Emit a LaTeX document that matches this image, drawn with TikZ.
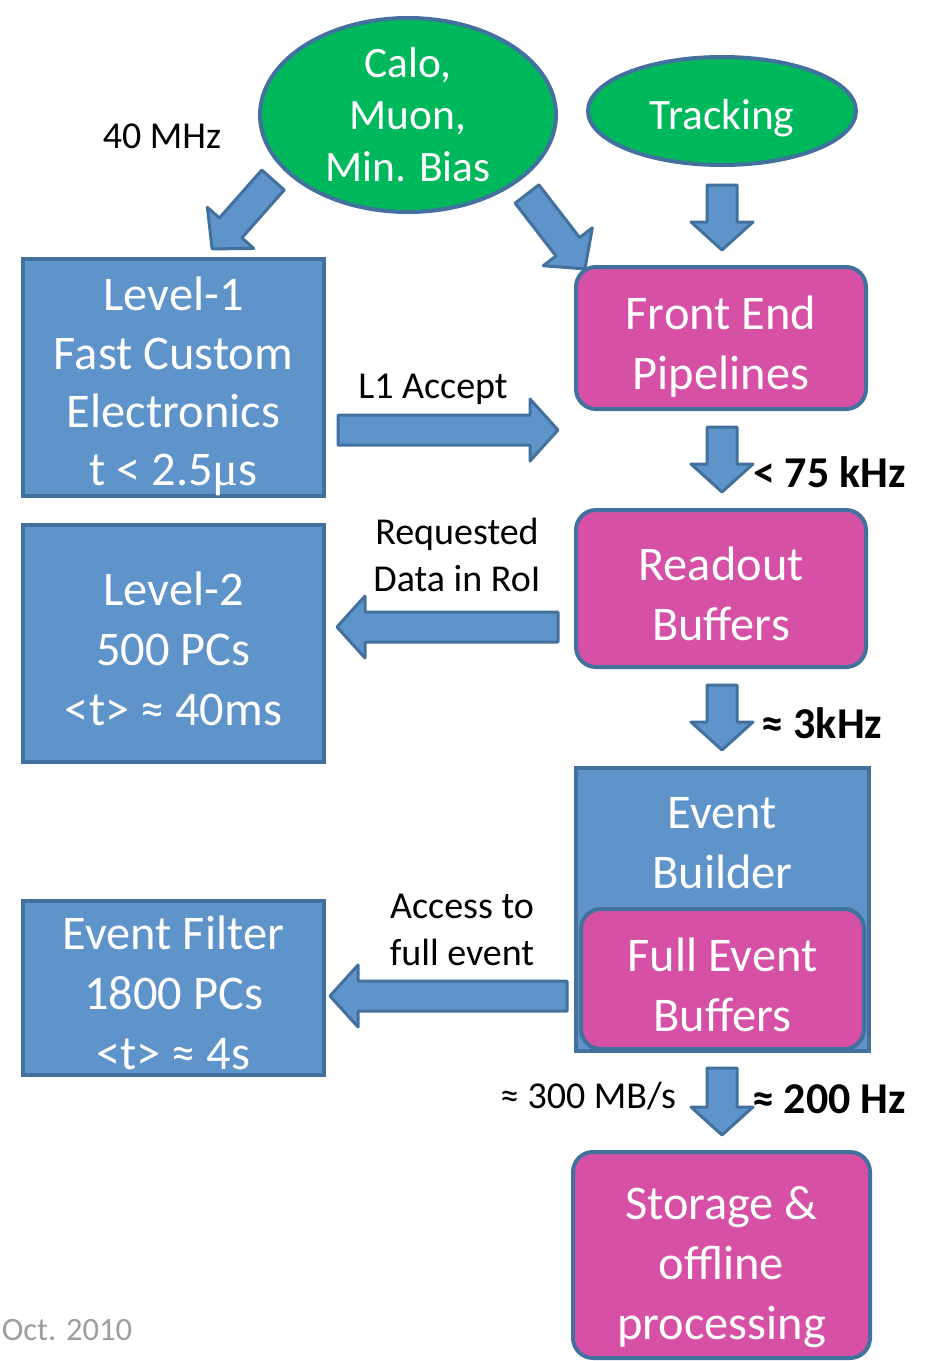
\documentclass[tikz,border=0pt]{standalone}
\usepackage{fontspec}
\setmainfont{Carlito}
\newfontfamily\serifmu{Liberation Serif}
\usetikzlibrary{calc,positioning,shapes.geometric}
\definecolor{boxblue}{RGB}{94,148,202}
\definecolor{edgeblue}{RGB}{66,113,158}
\definecolor{bufpink}{RGB}{214,80,166}
\definecolor{srcgreen}{RGB}{0,184,92}
\newcommand\drop[1]{\rule{0pt}{\dimexpr 17pt+#1\relax}}
\newcommand\bigarrow[2]{%
  \draw[fatarrow] let \p1=($(#2)-(#1)$), \n1={atan2(\y1,\x1)}, \n2={veclen(\x1,\y1)} in
    [shift={(#1)},rotate=\n1] (0pt,-7.5pt) -- (\n2-14pt,-7.5pt) -- (\n2-14pt,-15.5pt) -- (\n2,0pt)
    -- (\n2-14pt,15.5pt) -- (\n2-14pt,7.5pt) -- (0pt,7.5pt) -- cycle;}

\begin{document}
\begin{tikzpicture}[x=0.5pt,y=-0.5pt,
  every node/.style={align=center},
  bigtxt/.style={text=white,font=\fontsize{24.2}{30}\selectfont},
  trig/.style={bigtxt,draw=edgeblue,fill=boxblue,line width=2pt,minimum width=150.5pt,inner sep=0pt},
  buf/.style={bigtxt,draw=edgeblue,fill=bufpink,line width=2pt,rounded corners=10pt,inner sep=0pt},
  src/.style={ellipse,text=white,font=\fontsize{21.7}{26}\selectfont,draw=edgeblue,fill=srcgreen,line width=2pt,inner sep=0pt},
  lbl/.style={font=\fontsize{19}{23.5}\selectfont},
  rate/.style={font=\fontsize{22}{26}\bfseries\selectfont},
  fatarrow/.style={draw=edgeblue,fill=boxblue,line width=1.5pt,line join=round}]
  \useasboundingbox (0,0) rectangle (926,1361);

  \node[src,minimum width=148pt,minimum height=97pt] (calo) at (408,115) {Calo,\\Muon,\\Min. Bias};
  \node[src,minimum width=134pt,minimum height=54pt] (trk) at (722,111) {\rule{0pt}{22pt}Tracking};

  \node[trig,minimum height=118.5pt,font=\fontsize{24.2}{29.2}\selectfont] (lvl1) at (173.5,377.5) {\drop{9pt}Level-1\\Fast Custom\\Electronics\\t < 2.5{\serifmu μ}s};
  \node[trig,minimum height=118.5pt] (lvl2) at (173.5,643.5) {\drop{5pt}Level-2\\500 PCs\\<t> ≈ 40ms};
  \node[trig,minimum height=87pt] (ef) at (173.5,988) {\drop{5pt}Event Filter\\1800 PCs\\<t> ≈ 4s};

  \node[buf,minimum width=145pt,minimum height=71pt] (fe) at (721,338) {\drop{8pt}Front End\\Pipelines};
  \node[buf,minimum width=145pt,minimum height=78.5pt] (rob) at (721,588.5) {\drop{5pt}Readout\\Buffers};
  \node[trig,minimum width=146.5pt,minimum height=141.5pt] (eb) at (722.5,909.5) {};
  \node[bigtxt,below=12pt of eb.north] (ebtxt) {Event\\Builder};
  \node[buf,minimum width=141.5pt,minimum height=70pt] (feb) at (722.5,979) {\drop{6pt}Full Event\\Buffers};
  \node[buf,minimum width=148.5pt,minimum height=103pt] (sto) at (721.5,1255) {\drop{12pt}Storage \&\\offline\\processing};

  \node[lbl] (mhz) at (162,136) {40 MHz};
  \node[lbl] (l1acc) at (433,389) {L1 Accept};
  \node[lbl] (req) at (457,555) {Requested\\Data in RoI};
  \node[lbl] (acc) at (462,930) {Access to\\full event};
  \node[lbl] (mbs) at (588,1096) {≈ 300 MB/s};
  \node[rate,anchor=west] (r75) at (746,472) {< 75 kHz};
  \node[rate] (r3k) at (822,723) {≈ 3kHz};
  \node[rate] (r200) at (829,1099) {≈ 200 Hz};
  \node[font=\fontsize{16.3}{20}\selectfont,text=black!38] (date) at (67,1330) {Oct. 2010};

  \coordinate (cl) at (273,180);  \coordinate (clt) at (212,249);
  \coordinate (cr) at (527,194);  \coordinate (crt) at (585,269);
  \coordinate (tk) at (722,185);  \coordinate (tkt) at (722,250);
  \coordinate (acc1) at (338,430); \coordinate (acc1t) at (558,430);
  \coordinate (fr) at (722,427);  \coordinate (frt) at (722,492);
  \coordinate (roi) at (558,627); \coordinate (roit) at (337,627);
  \coordinate (re) at (722,685);  \coordinate (ret) at (722,750);
  \coordinate (ful) at (567,996); \coordinate (fult) at (330,996);
  \coordinate (es) at (722,1068); \coordinate (est) at (722,1135);

  \bigarrow{cl}{clt}
  \bigarrow{cr}{crt}
  \bigarrow{tk}{tkt}
  \bigarrow{acc1}{acc1t}
  \bigarrow{fr}{frt}
  \bigarrow{roi}{roit}
  \bigarrow{re}{ret}
  \bigarrow{ful}{fult}
  \bigarrow{es}{est}
\end{tikzpicture}
\end{document}
